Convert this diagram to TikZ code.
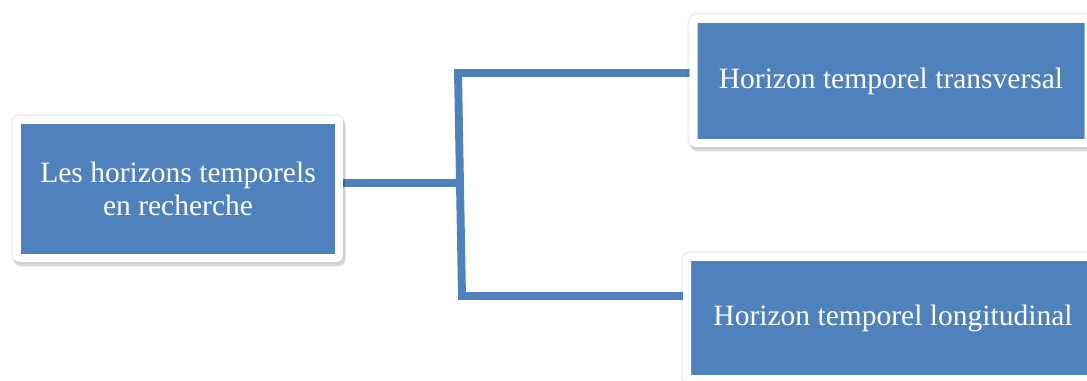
\documentclass[tikz,border=0pt]{standalone}
\usepackage{fontspec}
\setmainfont{Liberation Serif}
\usepackage{xcolor}
\usepackage{tikz}
\usetikzlibrary{shadows,backgrounds}
\definecolor{boxblue}{HTML}{4F81BD}
\definecolor{frame}{HTML}{FFFFFF}
\tikzset{
  topic/.style={rectangle, fill=boxblue, draw=frame, line width=4.5pt,
    rounded corners=1.5pt, inner sep=0pt, text=white, align=center,
    font=\fontsize{16.8}{19}\selectfont,
    general shadow={fill=black, draw=black, line width=7pt, opacity=0.05},
    drop shadow={shadow xshift=1pt, shadow yshift=-2pt, fill=black,
      draw=black, line width=5.5pt, opacity=0.14}},
  link/.style={draw=boxblue, line width=4.5pt, line join=miter},
}

\begin{document}
\begin{tikzpicture}[x=0.02cm,y=-0.02cm]
  \useasboundingbox (0,0) rectangle (1087,381);

  \node[topic, minimum width=6.44cm, minimum height=2.76cm] (lead) at (178,189)
    {Les horizons temporels\\en recherche};
  \node[topic, minimum width=7.9cm, minimum height=2.48cm] (trans) at (891,81)
    {Horizon temporel transversal};
  \node[topic, minimum width=8.24cm, minimum height=2.44cm] (longi) at (893,318)
    {Horizon temporel longitudinal};

  \coordinate (jt) at (458,73);
  \coordinate (jm) at (460,183);
  \coordinate (jb) at (462,296);

  \begin{scope}[on background layer]
    \draw[link] (lead.east |- jm) -- (jm);
    \draw[link] (jt -| trans.west) -- (jt) -- (jb) -- (jb -| longi.west);
  \end{scope}
\end{tikzpicture}
\end{document}
